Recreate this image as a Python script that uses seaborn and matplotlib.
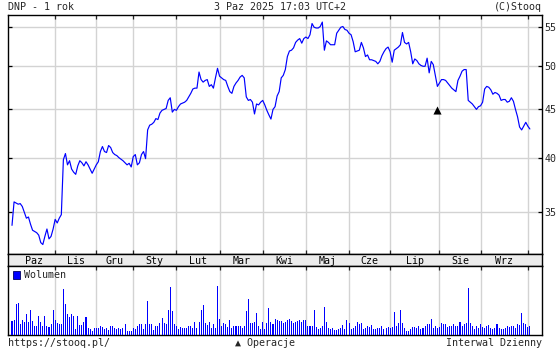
import numpy as np
import pandas as pd
import matplotlib
matplotlib.use("Agg")
import matplotlib.pyplot as plt
import seaborn as sns
from matplotlib.patches import Patch
from matplotlib.ticker import FixedLocator, FixedFormatter, NullLocator
from matplotlib.transforms import blended_transform_factory

# ---------------- data ----------------
title_left = "DNP - 1 rok"
title_mid = "3 Paz 2025 17:03 UTC+2"
title_right = "(C)Stooq"
footer_left = "https://stooq.pl/"
footer_mid = "\u25b2 Operacje"
footer_right = "Interwal Dzienny"
volume_label = "Wolumen"

month_labels = ["Paz", "Lis", "Gru", "Sty", "Lut", "Mar",
                "Kwi", "Maj", "Cze", "Lip", "Sie", "Wrz"]
# trading-day index where each following month starts
month_starts = [21, 41, 59, 80, 101, 122, 143, 164, 184, 208, 228, 251]
price_ticks = [35, 40, 45, 50, 55]

price = [
    33.9, 35.9, 35.8, 35.7, 35.75, 35.5, 35.0, 34.5, 34.6, 34.0,
    33.5, 33.4, 33.3, 33.1, 32.5, 32.35, 33.0, 33.6, 32.8, 33.0,
    33.6, 34.4, 34.1, 34.5, 34.8, 39.8, 40.4, 39.3, 39.7, 38.9,
    38.6, 38.4, 39.2, 39.7, 39.5, 39.2, 39.6, 39.3, 38.9, 38.5,
    38.9, 39.3, 39.6, 40.6, 41.1, 40.6, 40.5, 41.2, 41.0, 40.5,
    40.3, 40.2, 40.0, 39.85, 39.7, 39.5, 39.3, 39.45, 39.1, 40.1,
    40.3, 39.3, 39.5, 40.3, 40.6, 39.9, 42.8, 43.3, 43.4, 43.6,
    44.0, 43.9, 44.6, 44.9, 45.0, 45.1, 46.0, 46.3, 44.7, 45.0,
    44.9, 45.3, 45.6, 45.7, 45.8, 46.0, 46.4, 46.8, 47.3, 47.4,
    47.4, 49.3, 48.4, 48.1, 48.3, 48.4, 47.6, 47.8, 47.4, 48.6,
    49.75, 48.8, 48.6, 48.4, 48.3, 47.6, 47.0, 46.8, 47.6, 48.0,
    48.3, 48.7, 48.9, 48.6, 46.4, 46.0, 46.1, 45.8, 44.5, 45.6,
    45.5, 45.8, 46.0, 45.5, 44.9, 44.4, 43.95, 45.0, 45.3, 46.5,
    47.0, 48.6, 48.9, 49.6, 51.2, 51.9, 52.0, 52.3, 53.0, 53.3,
    53.5, 52.9, 53.5, 53.7, 53.5, 54.0, 55.5, 55.0, 54.9, 54.9,
    55.1, 55.7, 52.0, 53.2, 53.0, 52.7, 52.7, 52.7, 54.2, 54.6,
    55.0, 55.1, 54.7, 54.6, 54.2, 54.0, 53.1, 51.8, 51.9, 52.0,
    53.0, 52.3, 51.2, 51.4, 50.8, 50.8, 50.7, 50.6, 50.3, 50.6,
    51.3, 51.8, 52.2, 52.4, 51.8, 50.5, 52.0, 52.2, 52.4, 52.7,
    54.3, 53.0, 52.8, 53.0, 51.8, 50.3, 50.9, 50.7, 50.3, 50.1,
    50.0, 50.0, 51.0, 49.2, 50.6, 50.2, 48.9, 47.6, 48.0, 48.4,
    48.4, 48.3, 48.0, 47.7, 47.4, 47.2, 47.0, 48.3, 48.8, 49.4,
    49.6, 49.6, 46.0, 45.8, 45.6, 45.3, 45.0, 45.3, 45.4, 45.8,
    47.3, 47.6, 47.5, 47.2, 46.7, 46.9, 46.8, 46.6, 46.0, 46.1,
    46.1, 45.8, 45.9, 46.3, 45.9, 45.0, 44.2, 43.1, 42.8, 43.2,
    43.6, 43.2, 42.9,
]

volume = [
    14, 15, 31, 32, 11, 15, 13, 21, 13, 25,
    14, 9, 9, 19, 13, 9, 19, 9, 8, 11,
    25, 15, 12, 11, 11, 46, 31, 21, 18, 21,
    19, 6, 19, 10, 10, 13, 18, 7, 6, 4,
    7, 7, 7, 9, 8, 6, 7, 5, 9, 9,
    7, 6, 7, 6, 7, 11, 4, 4, 4, 7,
    6, 9, 11, 11, 6, 11, 34, 11, 11, 5,
    9, 9, 12, 17, 12, 11, 25, 48, 24, 11,
    9, 6, 8, 7, 7, 7, 9, 9, 7, 13,
    7, 13, 25, 30, 12, 10, 13, 7, 11, 7,
    49, 16, 9, 12, 11, 8, 15, 7, 9, 9,
    9, 9, 7, 9, 24, 36, 12, 12, 13, 22,
    9, 6, 13, 6, 12, 27, 13, 11, 16, 15,
    14, 14, 12, 13, 15, 16, 14, 12, 13, 14,
    15, 13, 15, 15, 9, 9, 9, 25, 8, 6,
    7, 9, 28, 13, 7, 6, 7, 5, 5, 6,
    7, 10, 6, 15, 12, 6, 7, 9, 13, 11,
    12, 6, 7, 9, 8, 10, 6, 6, 7, 7,
    9, 6, 7, 8, 7, 8, 23, 9, 12, 25,
    12, 7, 4, 4, 6, 8, 8, 7, 9, 6,
    7, 9, 11, 11, 16, 7, 9, 7, 8, 12,
    11, 11, 8, 9, 9, 11, 9, 9, 13, 9,
    11, 12, 47, 12, 9, 6, 9, 7, 11, 8,
    7, 9, 10, 7, 6, 7, 11, 7, 6, 6,
    7, 9, 8, 9, 9, 7, 11, 10, 22, 12,
    11, 8, 9,
]

op_index = 207
op_price = 44.9

# ---------------- style ----------------
sns.set_style("white")
plt.rcParams["font.family"] = ["DejaVu Sans Mono", "DejaVu Sans"]
FS = 7.2
BLUE = "#0000ff"
GRID = "#d3d3d3"

W, H = 560, 350
fig = plt.figure(figsize=(W / 100, H / 100), dpi=100)
fig.patch.set_facecolor("white")


def rect(x0, y0, x1, y1):
    return [x0 / W, 1 - y1 / H, (x1 - x0) / W, (y1 - y0) / H]


ax = fig.add_axes(rect(8, 15, 542, 254))
axb = fig.add_axes(rect(8, 254, 542, 266))
axv = fig.add_axes(rect(8, 266, 542, 335))

XLIM = (-1.95, 257.9)

# ---------------- price panel ----------------
dfp = pd.DataFrame({"day": np.arange(len(price)), "price": price})
sns.lineplot(data=dfp, x="day", y="price", ax=ax, color=BLUE,
             linewidth=0.85, zorder=3)
ax.scatter([op_index], [op_price], marker="^", s=34, color="black",
           zorder=4, linewidths=0)
ax.set_yscale("log")
ax.set_ylim(31.61, 56.67)
ax.set_xlim(*XLIM)
ax.yaxis.set_major_locator(FixedLocator(price_ticks))
ax.yaxis.set_major_formatter(FixedFormatter([str(t) for t in price_ticks]))
ax.yaxis.set_minor_locator(NullLocator())
ax.xaxis.set_major_locator(FixedLocator(month_starts))
ax.xaxis.set_minor_locator(NullLocator())
ax.set_xticklabels([])
ax.set_xlabel("")
ax.set_ylabel("")
ax.grid(True, color=GRID, linewidth=1.0, zorder=0)
ax.set_axisbelow(True)
ax.tick_params(axis="y", which="major", direction="in", length=3,
               left=True, right=True, labelleft=False, labelright=True,
               labelsize=FS, pad=2, width=0.9, color="black")
ax.tick_params(axis="x", which="major", direction="in", length=3,
               top=True, bottom=True, labelbottom=False, width=0.9)
for s in ax.spines.values():
    s.set_color("black")
    s.set_linewidth(1.0)

# ---------------- month band ----------------
axb.set_facecolor("#ececec")
axb.set_xlim(*XLIM)
axb.set_ylim(0, 1)
axb.set_xticks([])
axb.set_yticks([])
for s in axb.spines.values():
    s.set_color("black")
    s.set_linewidth(1.0)
bounds = [0] + month_starts
centers = [(a + b) / 2 for a, b in zip(bounds[:-1], bounds[1:])]
trb = blended_transform_factory(axb.transData, axb.transAxes)
for c, lab in zip(centers, month_labels):
    axb.text(c, 0.42, lab, transform=trb, ha="center", va="center",
             fontsize=FS, color="black")

# ---------------- volume panel ----------------
sns.barplot(x=np.arange(len(volume)), y=volume, native_scale=True,
            width=0.5, color=BLUE, saturation=1, linewidth=0,
            edgecolor="none", errorbar=None, ax=axv, zorder=3,
            antialiased=False)
for p in axv.patches:
    p.set_facecolor(BLUE)
axv.set_xlim(*XLIM)
axv.set_ylim(0, 69)
axv.xaxis.set_major_locator(FixedLocator(month_starts))
axv.xaxis.set_minor_locator(NullLocator())
axv.set_xticklabels([])
axv.set_yticks([])
axv.set_xlabel("")
axv.set_ylabel("")
axv.grid(True, axis="x", color=GRID, linewidth=1.0, zorder=0)
axv.set_axisbelow(True)
axv.tick_params(axis="x", direction="in", length=3, top=True,
                bottom=False, labelbottom=False, width=0.9)
for s in axv.spines.values():
    s.set_color("black")
    s.set_linewidth(1.0)
leg = axv.legend(handles=[Patch(facecolor=BLUE, edgecolor="#000060",
                                linewidth=0.6)],
                 labels=[volume_label], loc="upper left",
                 bbox_to_anchor=(0.0, 1.0), frameon=False,
                 fontsize=FS, handlelength=0.75, handleheight=0.75,
                 handletextpad=0.45, borderpad=0.25, borderaxespad=0.2)

# ---------------- header / footer ----------------
fig.text(8 / W, 1 - 7 / H, title_left, ha="left", va="center", fontsize=FS)
fig.text(280 / W, 1 - 7 / H, title_mid, ha="center", va="center", fontsize=FS)
fig.text(542 / W, 1 - 7 / H, title_right, ha="right", va="center", fontsize=FS)
fig.text(8 / W, 1 - 343 / H, footer_left, ha="left", va="center", fontsize=FS)
fig.text(265 / W, 1 - 343 / H, footer_mid, ha="center", va="center", fontsize=FS)
fig.text(542 / W, 1 - 343 / H, footer_right, ha="right", va="center", fontsize=FS)

fig.savefig("out.png", dpi=100, facecolor="white")
